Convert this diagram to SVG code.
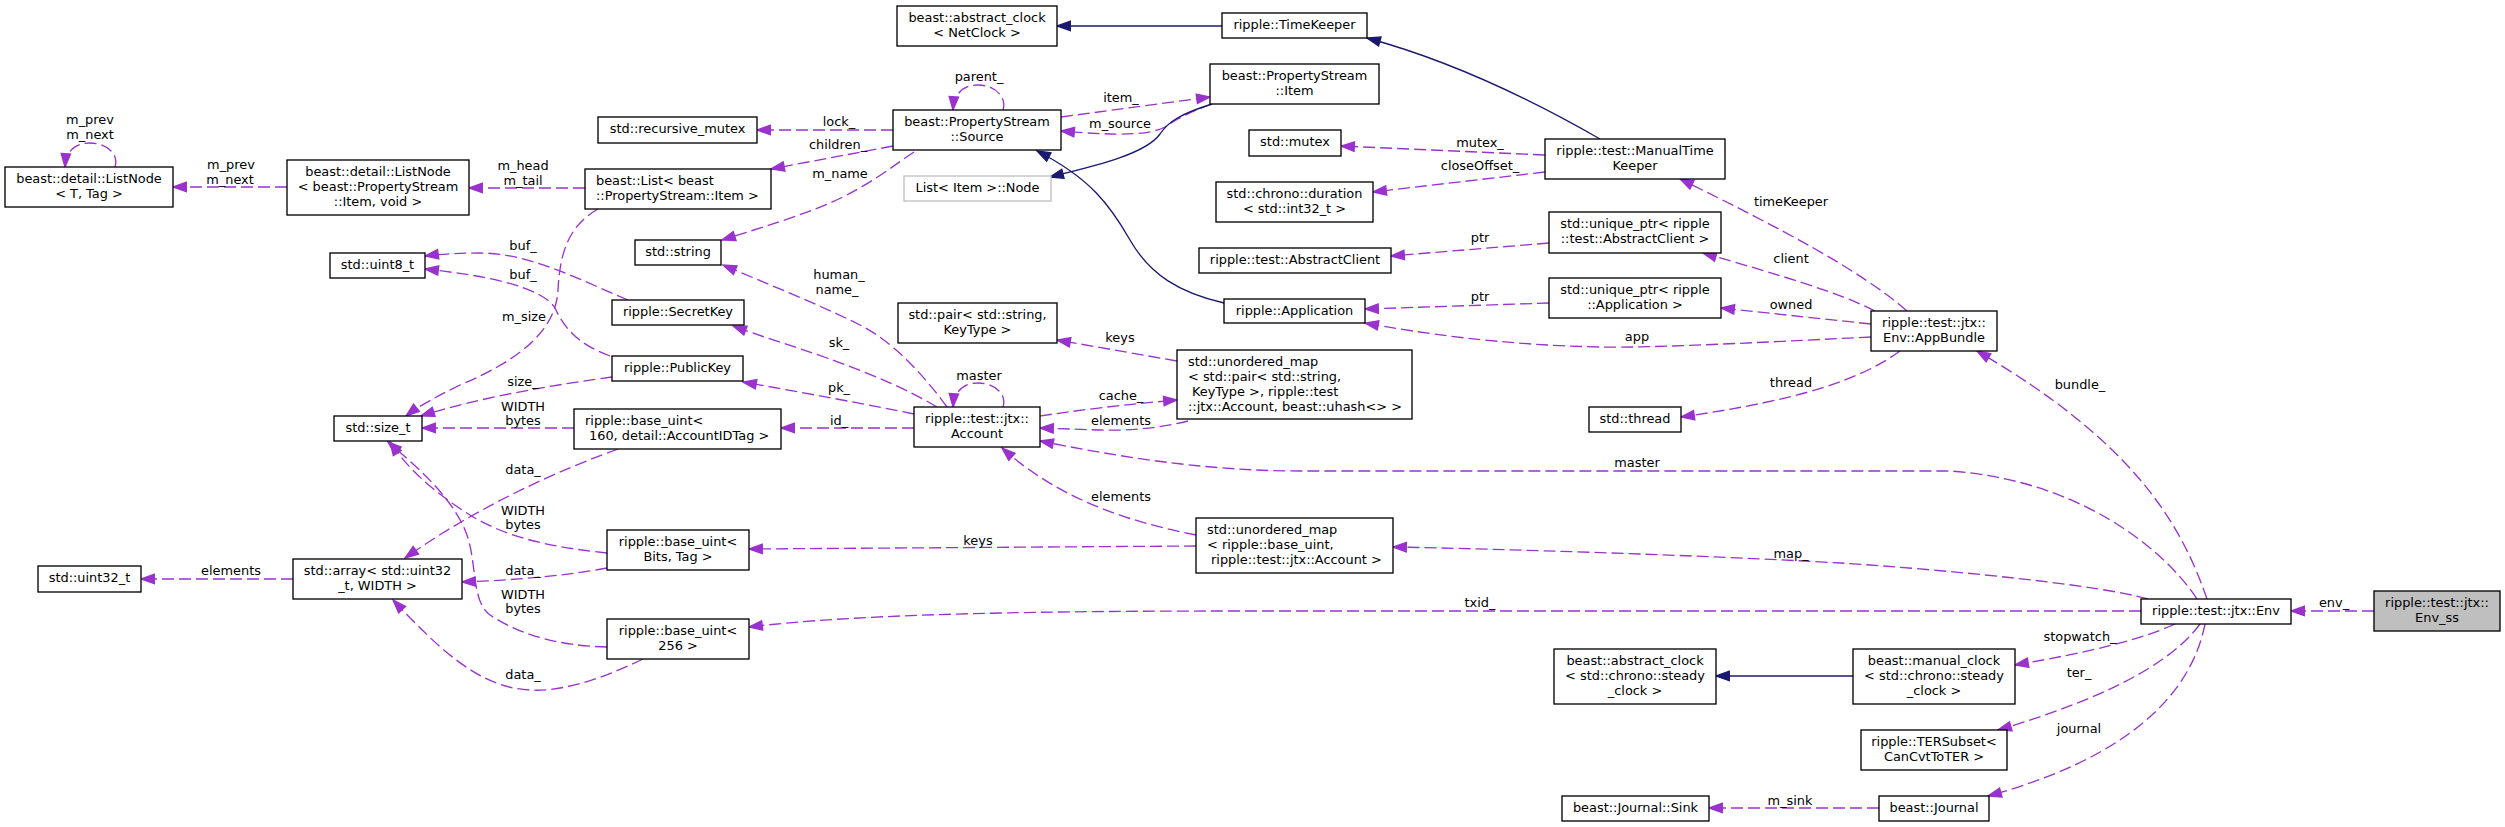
<svg xmlns="http://www.w3.org/2000/svg" width="2505" height="827" viewBox="0 0 2505 827">
<style>
text{font-family:"DejaVu Sans","Liberation Sans",sans-serif;font-size:12.9px;fill:#000}
.n rect{fill:#fff;stroke:#000;stroke-width:1.33}
.n text,.l{text-anchor:middle}
.s{text-anchor:start!important}
.g rect{stroke:#bfbfbf}
.root rect{fill:#bfbfbf}
.e{fill:none;stroke:#9a32cd;stroke-width:1.33;stroke-dasharray:12,5;marker-end:url(#ap)}
.b{fill:none;stroke:#191970;stroke-width:1.33;marker-end:url(#ab)}
</style>
<defs>
<marker id="ap" markerUnits="userSpaceOnUse" markerWidth="18" markerHeight="14" viewBox="-2 -2 18 14" refX="13.3" refY="4.7" orient="auto"><path d="M0,0 L13.3,4.7 L0,9.4 z" fill="#9a32cd" stroke="#9a32cd" stroke-width="1.33"/></marker>
<marker id="ab" markerUnits="userSpaceOnUse" markerWidth="18" markerHeight="14" viewBox="-2 -2 18 14" refX="13.3" refY="4.7" orient="auto"><path d="M0,0 L13.3,4.7 L0,9.4 z" fill="#191970" stroke="#191970" stroke-width="1.33"/></marker>
</defs>
<rect width="2505" height="827" fill="#fff"/>
<g id="edges">
<path class="e" d="M115,167 C119,155 108,143 90,143 C74,143 66,152 65,167"/>
<path class="e" d="M287,187 L173,187"/>
<path class="e" d="M585,188 L469,188"/>
<path class="e" d="M893,130 L757,130"/>
<path class="e" d="M893,146 L771,169"/>
<path class="e" d="M914,152 C890,168 870,185 830,203 C800,216 760,228 722,240"/>
<path class="e" d="M1003,110 C1007,98 996,85 978,85 C962,85 954,95 953,110"/>
<path class="e" d="M1061,117 L1210,97"/>
<path class="e" d="M1212,104 C1190,112 1178,118 1165,127 C1150,135 1120,136 1061,131"/>
<path class="b" d="M1212,104 C1180,114 1168,122 1160,134 C1145,155 1090,167 1050,177"/>
<path class="b" d="M1224,303 C1180,293 1150,275 1130,240 C1110,205 1090,178 1037,151"/>
<path class="b" d="M1222,26 L1057,26"/>
<path class="b" d="M1600,139 C1560,116 1470,66 1367,38"/>
<path class="e" d="M1545,155 L1341,146"/>
<path class="e" d="M1545,172 L1373,192"/>
<path class="e" d="M1549,243 L1391,256"/>
<path class="e" d="M1549,303 L1365,309"/>
<path class="e" d="M1871,337 C1750,343 1650,348 1600,347 C1500,345 1420,333 1365,323"/>
<path class="e" d="M1907,311 C1860,270 1780,228 1680,179"/>
<path class="e" d="M1875,311 C1840,293 1780,275 1703,253"/>
<path class="e" d="M1871,324 L1721,308"/>
<path class="e" d="M1900,351 C1860,380 1800,400 1681,417"/>
<path class="e" d="M2207,599 C2180,520 2130,440 1977,351"/>
<path class="e" d="M2197,599 C2165,550 2080,480 1950,471 L1300,471 C1200,471 1110,455 1040,441"/>
<path class="e" d="M2148,599 C2100,585 1950,570 1840,563 C1700,555 1500,549 1393,547"/>
<path class="e" d="M2141,611 L1237,611 C1000,611 850,615 749,627"/>
<path class="e" d="M2175,624 C2140,640 2090,652 2015,665"/>
<path class="e" d="M2200,624 C2170,665 2100,700 1998,730"/>
<path class="e" d="M2205,624 C2190,700 2120,760 1988,796"/>
<path class="e" d="M1879,808 L1709,808"/>
<path class="b" d="M1853,676 L1716,676"/>
<path class="e" d="M2374,611 L2291,611"/>
<path class="e" d="M1177,361 L1057,340"/>
<path class="e" d="M1040,416 C1080,410 1120,405 1177,400"/>
<path class="e" d="M1188,421 C1160,428 1130,431 1100,430 L1040,428"/>
<path class="e" d="M1196,535 C1130,522 1060,500 1002,448"/>
<path class="e" d="M1196,546 L749,549"/>
<path class="e" d="M914,428 L781,428"/>
<path class="e" d="M914,414 C870,405 800,392 743,382"/>
<path class="e" d="M937,407 C900,385 860,370 827,358 C790,345 760,336 733,326"/>
<path class="e" d="M947,407 C920,370 890,340 860,325 C820,305 770,285 723,265"/>
<path class="e" d="M1003,407 C1007,395 996,383 978,383 C962,383 954,393 953,407"/>
<path class="e" d="M612,377 C560,384 480,397 421,416"/>
<path class="e" d="M598,209 C570,225 560,250 558,290 C556,330 520,360 460,385 C440,395 420,405 406,416"/>
<path class="e" d="M628,300 C580,280 530,253 480,253 C460,253 440,254 425,256"/>
<path class="e" d="M610,356 C580,345 565,330 555,308 C540,285 480,275 425,269"/>
<path class="e" d="M574,428 L422,428"/>
<path class="e" d="M618,449 C560,470 480,505 405,558"/>
<path class="e" d="M607,553 C560,548 510,540 470,515 C430,490 405,465 390,442"/>
<path class="e" d="M607,647 C560,646 520,635 490,615 C470,600 478,560 465,530 C450,495 415,465 388,442"/>
<path class="e" d="M607,568 C570,575 520,580 462,582"/>
<path class="e" d="M643,659 C600,680 560,692 530,690 C480,688 440,650 393,600"/>
<path class="e" d="M293,579 L141,579"/>
</g>
<g id="edge-labels">
<text class="l" x="90" y="124">m_prev</text><text class="l" x="90" y="139">m_next</text>
<text class="l" x="231" y="169">m_prev</text><text class="l" x="230" y="184">m_next</text>
<text class="l" x="523" y="170">m_head</text><text class="l" x="523" y="185">m_tail</text>
<text class="l" x="839" y="126">lock_</text>
<text class="l" x="838" y="149">children_</text>
<text class="l" x="840" y="178">m_name</text>
<text class="l" x="979" y="81">parent_</text>
<text class="l" x="1121" y="102">item_</text>
<text class="l" x="1120" y="128">m_source</text>
<text class="l" x="1480" y="147">mutex_</text>
<text class="l" x="1480" y="170">closeOffset_</text>
<text class="l" x="1480" y="242">ptr</text>
<text class="l" x="1480" y="301">ptr</text>
<text class="l" x="1637" y="341">app</text>
<text class="l" x="1791" y="206">timeKeeper</text>
<text class="l" x="1791" y="263">client</text>
<text class="l" x="1791" y="309">owned</text>
<text class="l" x="1791" y="387">thread</text>
<text class="l" x="2080" y="389">bundle_</text>
<text class="l" x="1637" y="467">master</text>
<text class="l" x="1791" y="558">map_</text>
<text class="l" x="1480" y="607">txid_</text>
<text class="l" x="2080" y="641">stopwatch_</text>
<text class="l" x="2079" y="677">ter_</text>
<text class="l" x="2079" y="733">journal</text>
<text class="l" x="1790" y="805">m_sink</text>
<text class="l" x="2334" y="607">env_</text>
<text class="l" x="1120" y="342">keys</text>
<text class="l" x="1121" y="400">cache_</text>
<text class="l" x="1121" y="425">elements</text>
<text class="l" x="1121" y="501">elements</text>
<text class="l" x="978" y="545">keys</text>
<text class="l" x="839" y="425">id_</text>
<text class="l" x="839" y="392">pk_</text>
<text class="l" x="839" y="347">sk_</text>
<text class="l" x="839" y="279">human_</text><text class="l" x="837" y="294">name_</text>
<text class="l" x="979" y="380">master</text>
<text class="l" x="523" y="386">size_</text>
<text class="l" x="524" y="321">m_size</text>
<text class="l" x="523" y="250">buf_</text>
<text class="l" x="523" y="279">buf_</text>
<text class="l" x="523" y="411">WIDTH</text><text class="l" x="523" y="425">bytes</text>
<text class="l" x="523" y="474">data_</text>
<text class="l" x="523" y="515">WIDTH</text><text class="l" x="523" y="529">bytes</text>
<text class="l" x="523" y="575">data_</text>
<text class="l" x="523" y="599">WIDTH</text><text class="l" x="523" y="613">bytes</text>
<text class="l" x="523" y="679">data_</text>
<text class="l" x="231" y="575">elements</text>
</g>
<g id="n_listnode_t" class="n"><rect x="5" y="167" width="168" height="40"/><text x="89" y="183">beast::detail::ListNode</text><text x="89" y="198">&lt; T, Tag &gt;</text></g>
<g id="n_listnode_item" class="n"><rect x="287" y="160" width="182" height="55"/><text x="378" y="176">beast::detail::ListNode</text><text x="378" y="191">&lt; beast::PropertyStream</text><text x="378" y="206">::Item, void &gt;</text></g>
<g id="n_uint8" class="n"><rect x="330" y="253" width="95" height="25"/><text x="377.5" y="269">std::uint8_t</text></g>
<g id="n_size_t" class="n"><rect x="334" y="416" width="88" height="25"/><text x="378" y="432">std::size_t</text></g>
<g id="n_array" class="n"><rect x="293" y="559" width="169" height="40"/><text x="377.5" y="575">std::array&lt; std::uint32</text><text x="377.5" y="590">_t, WIDTH &gt;</text></g>
<g id="n_uint32" class="n"><rect x="38" y="566" width="103" height="26"/><text x="89.5" y="582">std::uint32_t</text></g>
<g id="n_recursive_mutex" class="n"><rect x="598" y="117" width="159" height="26"/><text x="677.5" y="133">std::recursive_mutex</text></g>
<g id="n_list" class="n"><rect x="585" y="169" width="186" height="40"/><text class="s" x="596" y="185">beast::List&lt; beast</text><text class="s" x="596" y="200">::PropertyStream::Item &gt;</text></g>
<g id="n_string" class="n"><rect x="635" y="240" width="86" height="25"/><text x="678" y="256">std::string</text></g>
<g id="n_secretkey" class="n"><rect x="612" y="300" width="132" height="25"/><text x="678" y="316">ripple::SecretKey</text></g>
<g id="n_publickey" class="n"><rect x="612" y="356" width="131" height="25"/><text x="677.5" y="372">ripple::PublicKey</text></g>
<g id="n_base_uint160" class="n"><rect x="574" y="409" width="207" height="40"/><text class="s" x="585" y="425">ripple::base_uint&lt;</text><text class="s" x="589" y="440">160, detail::AccountIDTag &gt;</text></g>
<g id="n_base_uint_bits" class="n"><rect x="607" y="530" width="142" height="40"/><text x="678" y="546">ripple::base_uint&lt;</text><text x="678" y="561">Bits, Tag &gt;</text></g>
<g id="n_base_uint256" class="n"><rect x="607" y="619" width="142" height="40"/><text x="678" y="635">ripple::base_uint&lt;</text><text x="678" y="650">256 &gt;</text></g>
<g id="n_abstract_clock_net" class="n"><rect x="897" y="6" width="160" height="40"/><text x="977" y="22">beast::abstract_clock</text><text x="977" y="37">&lt; NetClock &gt;</text></g>
<g id="n_source" class="n"><rect x="893" y="110" width="168" height="40"/><text x="977" y="126">beast::PropertyStream</text><text x="977" y="141">::Source</text></g>
<g id="n_list_node" class="n g"><rect x="904" y="176" width="147" height="25"/><text x="977.5" y="192">List&lt; Item &gt;::Node</text></g>
<g id="n_pair" class="n"><rect x="898" y="303" width="159" height="40"/><text x="977.5" y="319">std::pair&lt; std::string,</text><text x="977.5" y="334">KeyType &gt;</text></g>
<g id="n_account" class="n"><rect x="914" y="407" width="126" height="40"/><text x="977" y="423">ripple::test::jtx::</text><text x="977" y="438">Account</text></g>
<g id="n_umap_pair" class="n"><rect x="1177" y="350" width="235" height="69"/><text class="s" x="1188" y="366">std::unordered_map</text><text class="s" x="1188" y="381">&lt; std::pair&lt; std::string,</text><text class="s" x="1192" y="396">KeyType &gt;, ripple::test</text><text class="s" x="1188" y="411">::jtx::Account, beast::uhash&lt;&gt; &gt;</text></g>
<g id="n_umap_base" class="n"><rect x="1196" y="518" width="197" height="55"/><text class="s" x="1207" y="534">std::unordered_map</text><text class="s" x="1207" y="549">&lt; ripple::base_uint,</text><text class="s" x="1211" y="564">ripple::test::jtx::Account &gt;</text></g>
<g id="n_item" class="n"><rect x="1210" y="64" width="169" height="40"/><text x="1294.5" y="80">beast::PropertyStream</text><text x="1294.5" y="95">::Item</text></g>
<g id="n_timekeeper" class="n"><rect x="1222" y="13" width="145" height="25"/><text x="1294.5" y="29">ripple::TimeKeeper</text></g>
<g id="n_mutex" class="n"><rect x="1249" y="130" width="92" height="26"/><text x="1295" y="146">std::mutex</text></g>
<g id="n_duration" class="n"><rect x="1216" y="182" width="157" height="40"/><text x="1294.5" y="198">std::chrono::duration</text><text x="1294.5" y="213">&lt; std::int32_t &gt;</text></g>
<g id="n_abstractclient" class="n"><rect x="1199" y="248" width="192" height="25"/><text x="1295" y="264">ripple::test::AbstractClient</text></g>
<g id="n_application" class="n"><rect x="1224" y="299" width="141" height="24"/><text x="1294.5" y="315">ripple::Application</text></g>
<g id="n_manualtimekeeper" class="n"><rect x="1545" y="139" width="180" height="40"/><text x="1635" y="155">ripple::test::ManualTime</text><text x="1635" y="170">Keeper</text></g>
<g id="n_uptr_client" class="n"><rect x="1549" y="212" width="172" height="41"/><text x="1635" y="228">std::unique_ptr&lt; ripple</text><text x="1635" y="243">::test::AbstractClient &gt;</text></g>
<g id="n_uptr_app" class="n"><rect x="1549" y="278" width="172" height="40"/><text x="1635" y="294">std::unique_ptr&lt; ripple</text><text x="1635" y="309">::Application &gt;</text></g>
<g id="n_appbundle" class="n"><rect x="1871" y="311" width="126" height="40"/><text x="1934" y="327">ripple::test::jtx::</text><text x="1934" y="342">Env::AppBundle</text></g>
<g id="n_thread" class="n"><rect x="1589" y="407" width="92" height="25"/><text x="1635" y="423">std::thread</text></g>
<g id="n_abstract_clock_steady" class="n"><rect x="1554" y="649" width="162" height="55"/><text x="1635" y="665">beast::abstract_clock</text><text x="1635" y="680">&lt; std::chrono::steady</text><text x="1635" y="695">_clock &gt;</text></g>
<g id="n_sink" class="n"><rect x="1562" y="796" width="147" height="25"/><text x="1635.5" y="812">beast::Journal::Sink</text></g>
<g id="n_manual_clock" class="n"><rect x="1853" y="649" width="162" height="55"/><text x="1934" y="665">beast::manual_clock</text><text x="1934" y="680">&lt; std::chrono::steady</text><text x="1934" y="695">_clock &gt;</text></g>
<g id="n_tersubset" class="n"><rect x="1861" y="730" width="146" height="40"/><text x="1934" y="746">ripple::TERSubset&lt;</text><text x="1934" y="761">CanCvtToTER &gt;</text></g>
<g id="n_journal" class="n"><rect x="1879" y="796" width="110" height="25"/><text x="1934" y="812">beast::Journal</text></g>
<g id="n_env" class="n"><rect x="2141" y="599" width="150" height="25"/><text x="2216" y="615">ripple::test::jtx::Env</text></g>
<g id="n_env_ss" class="n root"><rect x="2374" y="591" width="126" height="40"/><text x="2437" y="607">ripple::test::jtx::</text><text x="2437" y="622">Env_ss</text></g>
</svg>
